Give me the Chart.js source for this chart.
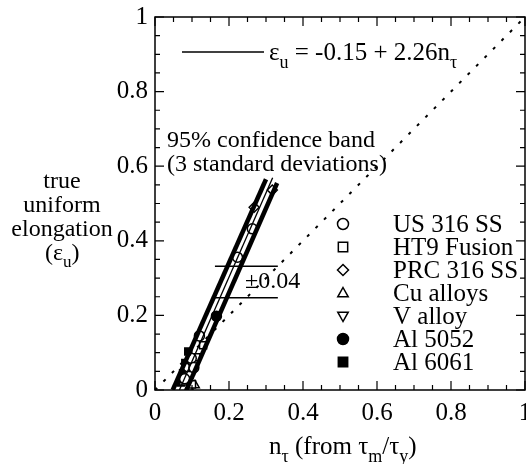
<!DOCTYPE html>
<html>
<head>
<meta charset="utf-8">
<script src="https://cdn.jsdelivr.net/npm/chart.js@4.4.0/dist/chart.umd.min.js"></script>
<style>
  html, body { margin: 0; padding: 0; background: #fff; }
  canvas { display: block; }
</style>
</head>
<body>
<canvas id="chart" width="526" height="464"></canvas>
<script>
// tick labels
const xTickValues = [0, 0.2, 0.4, 0.6, 0.8, 1];
const xTickLabels = ['0', '0.2', '0.4', '0.6', '0.8', '1'];
const yTickValues = [0, 0.2, 0.4, 0.6, 0.8, 1];
const yTickLabels = ['0', '0.2', '0.4', '0.6', '0.8', '1'];

// measured points (n_tau, eps_u)
const us316X = [0.223, 0.263, 0.120, 0.098, 0.080, 0.105];
const us316Y = [0.356, 0.432, 0.145, 0.085, 0.030, 0.060];
const ht9X = [0.130, 0.112, 0.093, 0.100];
const ht9Y = [0.120, 0.088, 0.040, 0.015];
const prc316X = [0.317, 0.268, 0.086];
const prc316Y = [0.536, 0.490, 0.060];
const cuX = [0.108, 0.092, 0.076];
const cuY = [0.013, 0.006, 0.020];
const vX = [0.090];
const vY = [0.045];
const al5052X = [0.166];
const al5052Y = [0.198];
const al6061X = [0.090, 0.082, 0.076, 0.070];
const al6061Y = [0.103, 0.072, 0.045, 0.020];

// fit line and 95% band, diagonal
const fitX = [0.066, 0.318];
const fitY = [0.0, 0.569];
const bandUpX = [0.048, 0.300];
const bandUpY = [0.0, 0.565];
const bandLowX = [0.085, 0.330];
const bandLowY = [0.0, 0.555];
const diagX = [0, 1];
const diagY = [0, 1];
const pmLineX = [0.162, 0.332];
const pmUpperY = 0.332;
const pmLowerY = 0.247;

const legendNames = ['US 316 SS', 'HT9 Fusion', 'PRC 316 SS', 'Cu alloys', 'V alloy', 'Al 5052', 'Al 6061'];

const FONT = '"Liberation Serif", "Times New Roman", serif';

const toPts = (xs, ys) => xs.map((x, i) => ({x: x, y: ys[i]}));

const lineSet = (xs, ys, width, dash) => ({
  data: toPts(xs, ys),
  showLine: true,
  borderColor: '#000',
  borderWidth: width,
  borderDash: dash || [],
  pointRadius: 0,
  fill: false
});

const markerSet = (xs, ys, style, filled, rotation) => ({
  data: toPts(xs, ys),
  showLine: false,
  pointStyle: style,
  pointRotation: rotation || 0,
  pointRadius: 5,
  pointBorderWidth: 1.5,
  pointBorderColor: '#000',
  pointBackgroundColor: filled ? '#000' : '#fff',
  borderColor: '#000',
  backgroundColor: filled ? '#000' : '#fff'
});

const markerDefs = [
  {style: 'circle', filled: false, rot: 0},
  {style: 'rect', filled: false, rot: 0},
  {style: 'rectRot', filled: false, rot: 0},
  {style: 'triangle', filled: false, rot: 0},
  {style: 'triangle', filled: false, rot: 180},
  {style: 'circle', filled: true, rot: 0},
  {style: 'rect', filled: true, rot: 0}
];

const datasets = [
  lineSet(diagX, diagY, 2, [3, 9]),
  lineSet(bandUpX, bandUpY, 4.5),
  lineSet(bandLowX, bandLowY, 4.5),
  lineSet(fitX, fitY, 1.3),
  lineSet(pmLineX, [pmUpperY, pmUpperY], 1.5),
  lineSet(pmLineX, [pmLowerY, pmLowerY], 1.5),
  markerSet(us316X, us316Y, 'circle', false),
  markerSet(ht9X, ht9Y, 'rect', false),
  markerSet(prc316X, prc316Y, 'rectRot', false),
  markerSet(cuX, cuY, 'triangle', false),
  markerSet(vX, vY, 'triangle', false, 180),
  markerSet(al5052X, al5052Y, 'circle', true),
  markerSet(al6061X, al6061Y, 'rect', true)
];

// draw text runs with subscripts
function drawRuns(ctx, runs, x, y, size) {
  let cx = x;
  runs.forEach(r => {
    const s = r.sub ? Math.round(size * 0.72) : size;
    ctx.font = `${s}px ${FONT}`;
    ctx.fillText(r.t, cx, r.sub ? y + size * 0.3 : y);
    cx += ctx.measureText(r.t).width;
  });
  return cx;
}

function drawSymbol(ctx, def, x, y, r) {
  ctx.save();
  ctx.translate(x, y);
  ctx.rotate(def.rot * Math.PI / 180);
  ctx.beginPath();
  if (def.style === 'circle') {
    ctx.arc(0, 0, r, 0, Math.PI * 2);
  } else if (def.style === 'rect') {
    const h = r * 0.85;
    ctx.rect(-h, -h, 2 * h, 2 * h);
  } else if (def.style === 'rectRot') {
    ctx.moveTo(0, -r); ctx.lineTo(r, 0); ctx.lineTo(0, r); ctx.lineTo(-r, 0); ctx.closePath();
  } else if (def.style === 'triangle') {
    ctx.moveTo(0, -r); ctx.lineTo(r * 0.95, r * 0.7); ctx.lineTo(-r * 0.95, r * 0.7); ctx.closePath();
  }
  ctx.fillStyle = def.filled ? '#000' : '#fff';
  ctx.fill();
  ctx.lineWidth = 1.5;
  ctx.strokeStyle = '#000';
  ctx.stroke();
  ctx.restore();
}

const decorations = {
  id: 'decorations',
  afterDraw(chart) {
    const ctx = chart.ctx;
    const xs = chart.scales.x;
    const ys = chart.scales.y;
    const area = chart.chartArea;
    ctx.save();
    ctx.strokeStyle = '#000';
    ctx.fillStyle = '#000';

    // frame
    ctx.lineWidth = 1.5;
    ctx.strokeRect(area.left, area.top, area.right - area.left, area.bottom - area.top);

    // inward ticks on all four sides
    ctx.lineWidth = 1.2;
    ctx.beginPath();
    for (let i = 0; i <= 20; i++) {
      const v = i * 0.05;
      const len = i % 4 === 0 ? 9 : 5;
      const px = xs.getPixelForValue(v);
      const py = ys.getPixelForValue(v);
      ctx.moveTo(px, area.bottom); ctx.lineTo(px, area.bottom - len);
      ctx.moveTo(px, area.top); ctx.lineTo(px, area.top + len);
      ctx.moveTo(area.left, py); ctx.lineTo(area.left + len, py);
      ctx.moveTo(area.right, py); ctx.lineTo(area.right - len, py);
    }
    ctx.stroke();

    // tick labels
    ctx.font = `25px ${FONT}`;
    ctx.textBaseline = 'alphabetic';
    ctx.textAlign = 'center';
    xTickValues.forEach((v, i) => {
      ctx.fillText(xTickLabels[i], xs.getPixelForValue(v), 420);
    });
    ctx.textAlign = 'right';
    ctx.textBaseline = 'middle';
    yTickValues.forEach((v, i) => {
      ctx.fillText(yTickLabels[i], area.left - 7, ys.getPixelForValue(v));
    });

    // y axis title
    ctx.textAlign = 'center';
    ctx.textBaseline = 'alphabetic';
    ctx.font = `24px ${FONT}`;
    ctx.fillText('true', 62, 188);
    ctx.fillText('uniform', 62, 212);
    ctx.fillText('elongation', 62, 236);
    ctx.textAlign = 'left';
    drawRuns(ctx, [{t: '(ε'}, {t: 'u', sub: true}, {t: ')'}], 45, 260, 24);

    // x axis title
    drawRuns(ctx, [{t: 'n'}, {t: 'τ', sub: true}, {t: ' (from τ'}, {t: 'm', sub: true},
                   {t: '/τ'}, {t: 'y', sub: true}, {t: ')'}], 269, 454, 25);

    // equation key
    ctx.lineWidth = 1.3;
    ctx.beginPath();
    ctx.moveTo(182, 52); ctx.lineTo(264, 52);
    ctx.stroke();
    drawRuns(ctx, [{t: 'ε'}, {t: 'u', sub: true}, {t: ' = -0.15 + 2.26n'}, {t: 'τ', sub: true}], 269, 60, 25);

    // band annotation
    ctx.font = `24px ${FONT}`;
    ctx.fillText('95% confidence band', 167, 147);
    ctx.fillText('(3 standard deviations)', 167, 171);
    ctx.fillText('±0.04', 245, 288);

    // legend
    legendNames.forEach((name, i) => {
      const base = 232 + i * 23;
      drawSymbol(ctx, markerDefs[i], 343, base - 8, 5.5);
      ctx.fillStyle = '#000';
      ctx.font = `25px ${FONT}`;
      ctx.fillText(name, 393, base);
    });
    ctx.restore();
  }
};

new Chart(document.getElementById('chart'), {
  type: 'scatter',
  data: {datasets: datasets},
  options: {
    responsive: false,
    animation: false,
    layout: {autoPadding: false, padding: {left: 0, top: 17, right: 1, bottom: 0}},
    plugins: {legend: {display: false}, tooltip: {enabled: false}},
    scales: {
      x: {
        type: 'linear', min: 0, max: 1,
        grid: {display: false}, border: {display: false},
        ticks: {display: false},
        afterFit(scale) { scale.height = 74; }
      },
      y: {
        type: 'linear', min: 0, max: 1,
        grid: {display: false}, border: {display: false},
        ticks: {display: false},
        afterFit(scale) { scale.width = 155; }
      }
    }
  },
  plugins: [decorations]
});
</script>
</body>
</html>
